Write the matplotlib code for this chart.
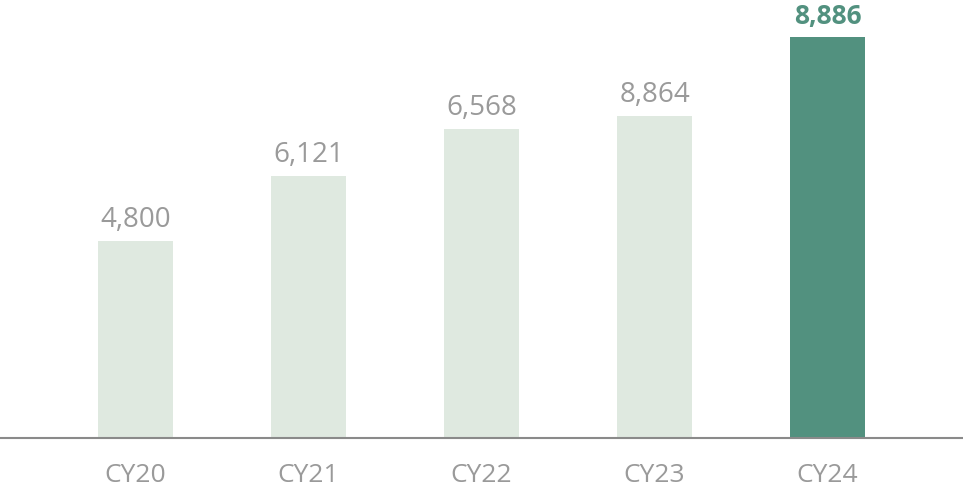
import matplotlib.pyplot as plt

years = ["CY20", "CY21", "CY22", "CY23", "CY24"]
labels = ["4,800", "6,121", "6,568", "8,864", "8,886"]
# bar heights as drawn in the reference (not proportional to the labels)
heights = [197, 262, 309, 322, 401]

light = "#dfe9e0"
dark = "#52917f"
grey = "#9a9a9a"

plt.rcParams["font.family"] = ["Open Sans", "DejaVu Sans"]

fig = plt.figure(figsize=(9.63, 4.92), dpi=100)
ax = fig.add_axes([0, 54 / 492, 1, 438 / 492])

colors = [light] * (len(years) - 1) + [dark]
x = range(len(years))
ax.bar(x, heights, width=0.434, color=colors)

for i, (h, lab) in enumerate(zip(heights, labels)):
    last = i == len(years) - 1
    ax.annotate(lab, (i, h), xytext=(0, 5), textcoords="offset points",
                ha="center", va="bottom", fontsize=20 if not last else 19,
                color=dark if last else grey,
                fontweight="bold" if last else "normal")

ax.set_xlim(-0.783, 4.783)
ax.set_ylim(0, 438)
ax.set_xticks(list(x))
ax.set_xticklabels(years, fontsize=19, color=grey)
ax.tick_params(axis="x", length=0, pad=18)
ax.set_yticks([])
for side in ["top", "right", "left"]:
    ax.spines[side].set_visible(False)
ax.spines["bottom"].set_color("#8a8a8a")
ax.spines["bottom"].set_linewidth(1.5)

fig.savefig("out.png", dpi=100)
